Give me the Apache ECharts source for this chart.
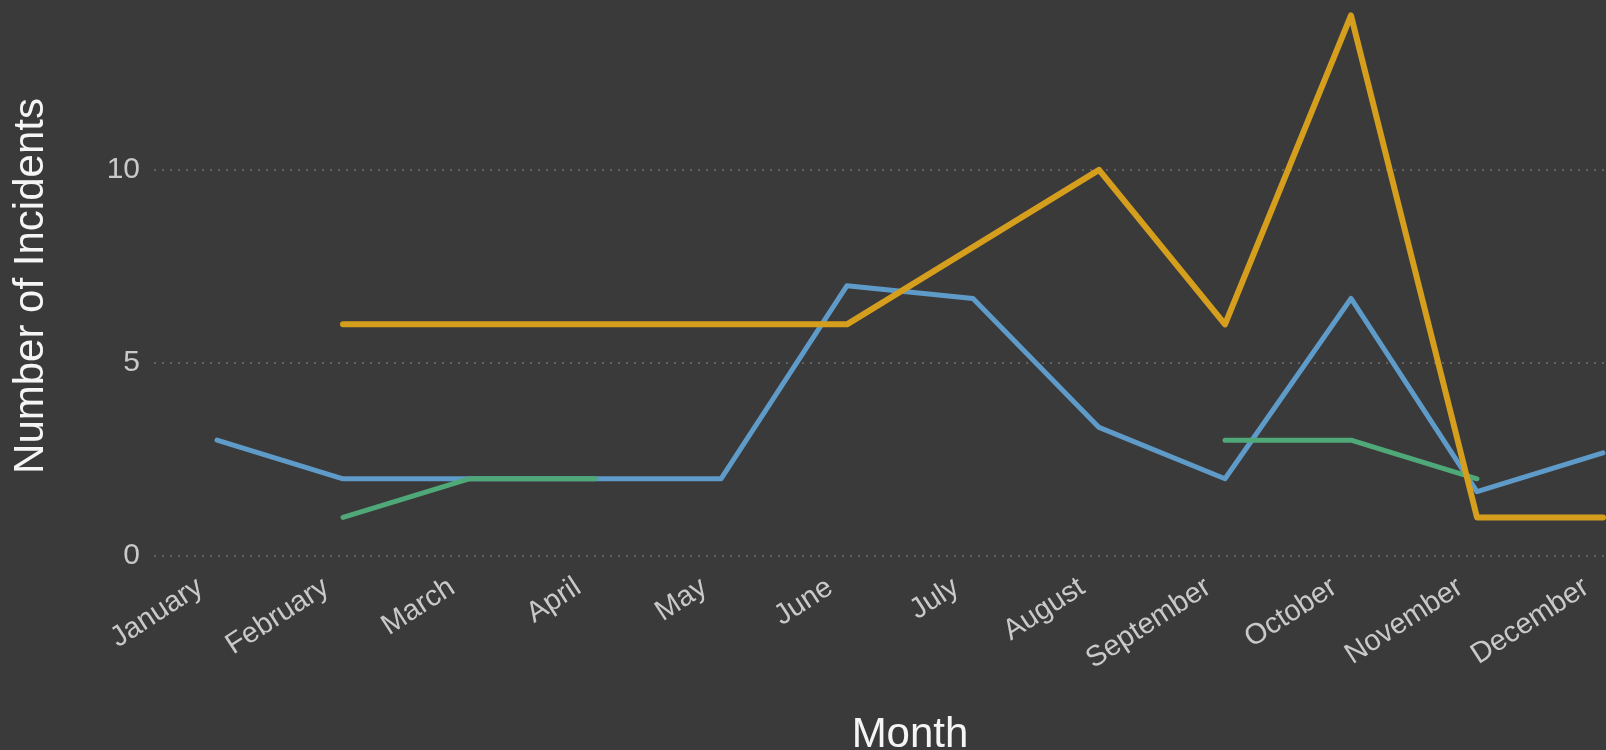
<!DOCTYPE html>
<html>
<head>
<meta charset="utf-8">
<script src="https://cdn.jsdelivr.net/npm/echarts@6/dist/echarts.min.js"></script>
<style>
  html, body { margin: 0; padding: 0; background: #3a3a3a; }
  #chart { width: 1606px; height: 750px; }
</style>
</head>
<body>
<div id="chart"></div>
<script>
  // months on the x axis
  var months = ['January', 'February', 'March', 'April', 'May', 'June',
    'July', 'August', 'September', 'October', 'November', 'December'];

  // incidents per month, one array per line (null = no data)
  var blueSeries = [3, 2, 2, 2, 2, 7, 6.67, 3.33, 2, 6.67, 1.67, 2.67];
  var greenSeries = [null, 1, 2, 2, null, null, null, null, 3, 3, 2, null];
  var goldSeries = [null, 6, 6, 6, 6, 6, 8, 10, 6, 14, 1, 1];

  var yTicks = [0, 5, 10];

  var myChart = echarts.init(document.getElementById('chart'));

  function lineSeries(data, color, width) {
    return {
      type: 'line',
      data: data,
      symbol: 'none',
      connectNulls: false,
      lineStyle: { color: color, width: width, cap: 'round', join: 'round' },
      itemStyle: { color: color }
    };
  }

  var option = {
    backgroundColor: '#3a3a3a',
    animation: false,
    textStyle: { fontFamily: 'Liberation Sans, Arial, sans-serif' },
    grid: { left: 154, top: 0, width: 1512, height: 556, outerBoundsMode: 'none', containLabel: false },
    xAxis: {
      type: 'category',
      data: months,
      boundaryGap: true,
      name: 'Month',
      nameLocation: 'middle',
      nameGap: 158,
      nameTextStyle: { color: '#f5f5f5', fontSize: 42 },
      axisLine: { show: false },
      axisTick: { show: false },
      axisLabel: {
        color: '#c9c9c9', fontSize: 29, rotate: 33, margin: 18,
        padding: [0, 20, 0, 0], interval: 0
      }
    },
    yAxis: {
      type: 'value',
      min: 0,
      max: 14.4,
      interval: 5,
      name: 'Number of Incidents',
      nameLocation: 'middle',
      nameGap: 102,
      nameTextStyle: { color: '#f5f5f5', fontSize: 42, padding: [0, 16, 0, 0] },
      axisLine: { show: false },
      axisTick: { show: false },
      axisLabel: {
        color: '#c9c9c9',
        fontSize: 30,
        margin: 14,
        showMaxLabel: false,
        formatter: function (v) { return yTicks.indexOf(v) >= 0 ? String(v) : ''; }
      },
      splitLine: {
        show: true,
        showMaxLine: false,
        lineStyle: { color: '#616161', type: [2, 6], width: 2 }
      }
    },
    series: [
      lineSeries(blueSeries, '#5f9bc9', 5),
      lineSeries(greenSeries, '#4fa877', 5),
      lineSeries(goldSeries, '#d59e1c', 6)
    ]
  };

  myChart.setOption(option);
</script>
</body>
</html>
